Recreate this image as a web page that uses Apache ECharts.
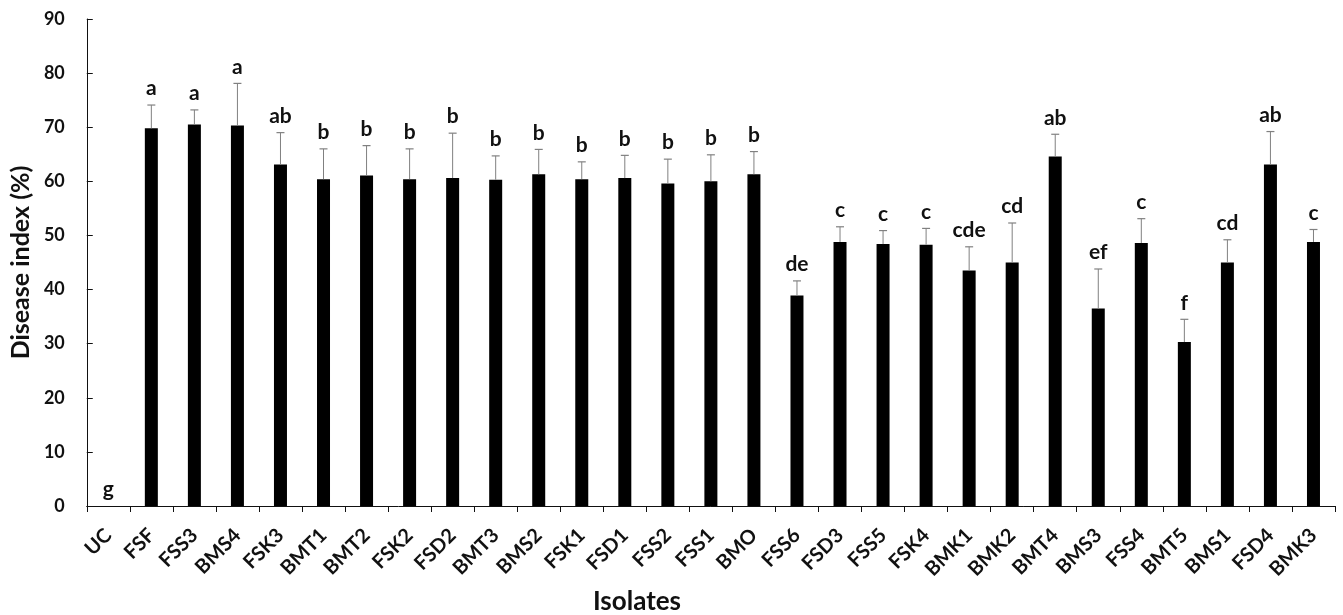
<!DOCTYPE html>
<html>
<head>
<meta charset="utf-8">
<script src="https://cdn.jsdelivr.net/npm/echarts@6/dist/echarts.min.js"></script>
<style>
  html, body { margin: 0; padding: 0; background: #fff; }
  #chart { width: 1343px; height: 615px; }
</style>
</head>
<body>
<div id="chart"></div>
<script>
const categories = ['UC','FSF','FSS3','BMS4','FSK3','BMT1','BMT2','FSK2','FSD2','BMT3','BMS2','FSK1','FSD1','FSS2','FSS1','BMO','FSS6','FSD3','FSS5','FSK4','BMK1','BMK2','BMT4','BMS3','FSS4','BMT5','BMS1','FSD4','BMK3'];
const means = [0, 69.8, 70.5, 70.3, 63.1, 60.4, 61.1, 60.4, 60.6, 60.3, 61.3, 60.4, 60.6, 59.6, 60.0, 61.3, 38.9, 48.8, 48.4, 48.3, 43.5, 45.0, 64.6, 36.5, 48.6, 30.3, 45.0, 63.1, 48.8];
const errors = [0, 4.3, 2.7, 7.8, 5.9, 5.6, 5.5, 5.6, 8.3, 4.4, 4.6, 3.2, 4.2, 4.5, 4.9, 4.2, 2.7, 2.8, 2.5, 3.0, 4.4, 7.3, 4.1, 7.3, 4.5, 4.2, 4.2, 6.1, 2.3];
const letters = ['g','a','a','a','ab','b','b','b','b','b','b','b','b','b','b','b','de','c','c','c','cde','cd','ab','ef','c','f','cd','ab','c'];
const yTicks = { min: 0, max: 90, interval: 10 };

const FONT = 'Lato, "Open Sans", sans-serif';
const chart = echarts.init(document.getElementById('chart'));

const errData = categories.map((c, i) => [i, means[i], errors[i]]);

chart.setOption({
  animation: false,
  backgroundColor: '#ffffff',
  grid: { left: 84, right: 8, top: 19, bottom: 109, containLabel: false },
  title: {
    text: 'Isolates',
    left: 632,
    top: 584,
    textAlign: 'center',
    textStyle: { fontFamily: FONT, fontWeight: 'bold', fontSize: 26, color: '#111' }
  },
  xAxis: {
    type: 'category',
    data: categories,
    boundaryGap: true,
    axisLine: { lineStyle: { color: '#111', width: 1 } },
    axisTick: { show: true, inside: false, length: 6, alignWithLabel: false, lineStyle: { color: '#111', width: 1 } },
    axisLabel: {
      interval: 0,
      rotate: 45,
      margin: 26,
      fontFamily: FONT,
      fontWeight: 'bold',
      fontSize: 20,
      color: '#111'
    }
  },
  yAxis: {
    type: 'value',
    min: yTicks.min,
    max: yTicks.max,
    interval: yTicks.interval,
    name: 'Disease index (%)',
    nameLocation: 'middle',
    nameGap: 50,
    nameTextStyle: { fontFamily: FONT, fontWeight: 'bold', fontSize: 25, color: '#111' },
    axisLine: { show: true, lineStyle: { color: '#111', width: 1 } },
    axisTick: { show: true, inside: true, length: 6, lineStyle: { color: '#111', width: 1 } },
    splitLine: { show: false },
    axisLabel: {
      margin: 22,
      fontFamily: FONT,
      fontWeight: 'bold',
      fontSize: 18,
      color: '#111'
    }
  },
  series: [
    {
      type: 'bar',
      data: means,
      barWidth: 13,
      itemStyle: { color: '#000000' },
      z: 2
    },
    {
      type: 'custom',
      data: errData,
      encode: { x: 0, y: 1 },
      z: 3,
      renderItem: function (params, api) {
        const idx = params.dataIndex;
        const m = api.value(1);
        const e = api.value(2);
        const base = api.coord([api.value(0), m]);
        const top = api.coord([api.value(0), m + e]);
        const x = base[0];
        const children = [];
        if (e > 0) {
          children.push({
            type: 'line',
            shape: { x1: x, y1: base[1], x2: x, y2: top[1] },
            style: { stroke: '#808080', lineWidth: 1 }
          });
          children.push({
            type: 'line',
            shape: { x1: x - 4, y1: top[1], x2: x + 4, y2: top[1] },
            style: { stroke: '#808080', lineWidth: 1.2 }
          });
        }
        children.push({
          type: 'text',
          style: {
            text: letters[idx],
            x: x,
            y: top[1] - 6,
            align: 'center',
            verticalAlign: 'bottom',
            font: 'bold 21px ' + FONT,
            fill: '#111'
          }
        });
        return { type: 'group', children: children };
      }
    }
  ]
});
</script>
</body>
</html>
